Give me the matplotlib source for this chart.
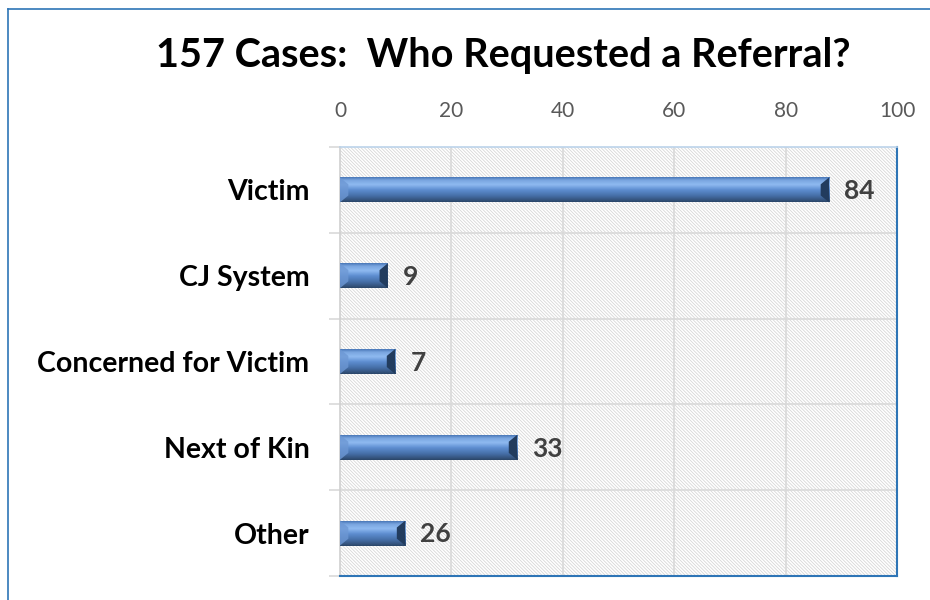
import numpy as np
import matplotlib
matplotlib.use("Agg")
import matplotlib.pyplot as plt
from matplotlib.patches import Rectangle, Polygon
from matplotlib.lines import Line2D
from matplotlib.colors import LinearSegmentedColormap

categories = ["Victim", "CJ System", "Concerned for Victim", "Next of Kin", "Other"]
bar_values = [87.8, 8.6, 9.9, 31.8, 11.7]
label_texts = ["84", "9", "7", "33", "26"]
xticks = [0, 20, 40, 60, 80, 100]
title = "157 Cases:  Who Requested a Referral?"

plt.rcParams['font.family'] = ['Lato', 'DejaVu Sans']
plt.rcParams['hatch.linewidth'] = 0.55

fig = plt.figure(figsize=(9.3, 6), dpi=100)
# outer frame
fig.add_artist(Line2D([8/930, 8/930], [0, 1-9/600], color='#2e75b6', lw=1.2, transform=fig.transFigure))
fig.add_artist(Line2D([8/930, 1], [1-9/600, 1-9/600], color='#2e75b6', lw=1.2, transform=fig.transFigure))

ax = fig.add_axes([340/930, 24/600, 557/930, 429/600])
n = len(categories)
y = np.arange(n)
ax.set_xlim(0, 100)
ax.set_ylim(n - 0.5, -0.5)

# hatched background
ax.add_patch(Rectangle((0, 0), 1, 1, transform=ax.transAxes, facecolor='white',
                       edgecolor='#d4d4d4', hatch='\\' * 10, lw=0, zorder=0))

# grid
for xv in xticks[1:]:
    ax.axvline(xv, color='#d9d9d9', lw=1.2, zorder=1)
for b in np.arange(n - 1) + 0.5:
    ax.axhline(b, color='#d9d9d9', lw=1.2, zorder=1)

h = 0.29
cmap = LinearSegmentedColormap.from_list('bev', [
    (0.0, '#4a78b8'), (0.12, '#7aa6e0'), (0.3, '#8fbaf0'), (0.5, '#5f8fd2'),
    (0.75, '#466fa8'), (0.92, '#35557f'), (1.0, '#2b4668')])
gimg = np.linspace(0, 1, 64).reshape(-1, 1)
for yi, v in zip(y, bar_values):
    bars = ax.barh(yi, v, height=h, color='#5a8ad0', zorder=3, lw=0)
    patch = bars[0]
    im = ax.imshow(gimg, cmap=cmap, aspect='auto', extent=(0, v, yi + h/2, yi - h/2),
                   zorder=4, interpolation='bilinear')
    im.set_clip_path(patch)
    bw = 1.5
    ax.add_patch(Polygon([(v, yi - h/2), (v, yi + h/2), (v - bw, yi + h/2 - 0.08), (v - bw, yi - h/2 + 0.08)],
                         closed=True, facecolor='#223c5e', lw=0, zorder=5))
    ax.add_patch(Polygon([(0, yi - h/2), (bw, yi - h/2 + 0.08), (bw, yi + h/2 - 0.08), (0, yi + h/2)],
                         closed=True, facecolor='#6d98d4', lw=0, zorder=5, alpha=0.8))
    ax.annotate(label_texts[yi], (v, yi), xytext=(11, -1), textcoords='offset points',
                va='center', ha='left', fontsize=19, fontweight='bold', color='#404040', zorder=6)

ax.set_xticks(xticks)
ax.xaxis.tick_top()
ax.tick_params(axis='x', length=0, pad=19, labelsize=15, labelcolor='#595959')
ax.set_yticks(y)
ax.set_yticklabels(categories, fontsize=20.5, fontweight='bold', color='black')
ax.set_yticks(np.arange(n + 1) - 0.5, minor=True)
ax.tick_params(axis='y', which='major', length=0, pad=22)
ax.tick_params(axis='y', which='minor', length=8, color='#d9d9d9', width=1.2)

ax.spines['left'].set_color('#d0d0d0')
ax.spines['left'].set_linewidth(1.2)
ax.spines['top'].set_color('#bcd3ea')
ax.spines['top'].set_linewidth(1.2)
for s in ['right', 'bottom']:
    ax.spines[s].set_color('#2e75b6')
    ax.spines[s].set_linewidth(1.5)

fig.text(503/930, 1 - 55/600, title, ha='center', va='center', fontsize=28.5, fontweight='bold')

fig.savefig('out.png', dpi=100)
